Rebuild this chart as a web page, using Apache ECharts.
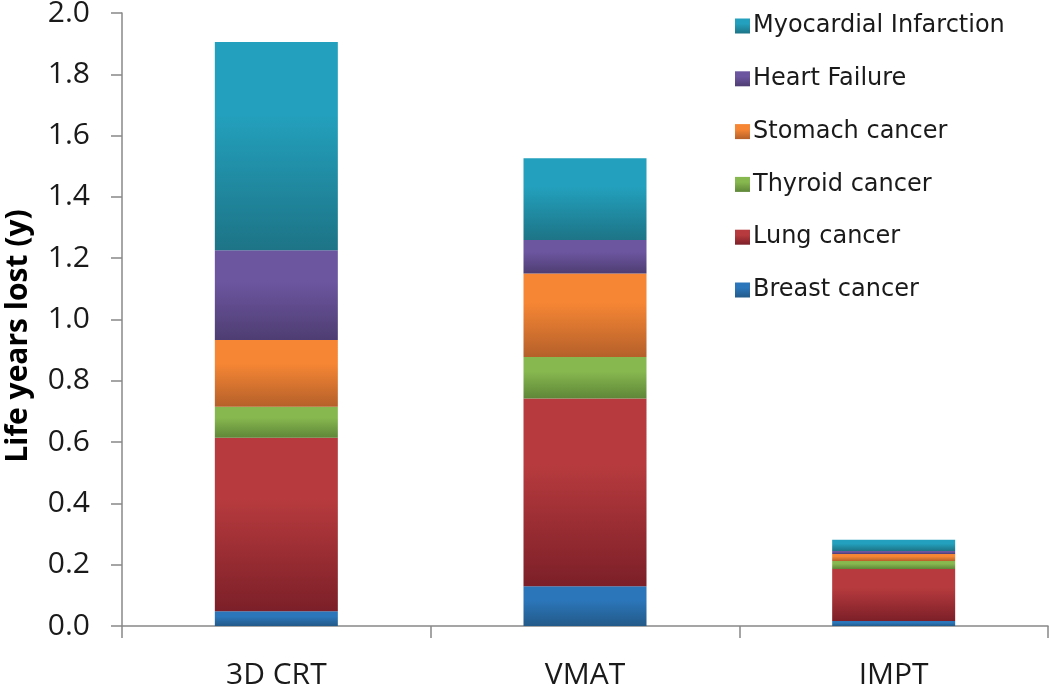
<!DOCTYPE html>
<html>
<head>
<meta charset="utf-8">
<script src="https://cdn.jsdelivr.net/npm/echarts@6/dist/echarts.min.js"></script>
<style>
html,body{margin:0;padding:0;background:#fff;}
#chart{width:1050px;height:684px;}
</style>
</head>
<body>
<div id="chart"></div>
<script>
const categories = ['3D CRT', 'VMAT', 'IMPT'];
const breastCancer = [0.048, 0.130, 0.016];
const lungCancer = [0.566, 0.612, 0.170];
const thyroidCancer = [0.101, 0.136, 0.026];
const stomachCancer = [0.218, 0.272, 0.023];
const heartFailure = [0.293, 0.109, 0.010];
const myocardialInfarction = [0.679, 0.267, 0.036];
const yTicks = [0, 0.2, 0.4, 0.6, 0.8, 1.0, 1.2, 1.4, 1.6, 1.8, 2.0];

function grad(top, bottom) {
  return new echarts.graphic.LinearGradient(0, 0, 0, 1, [
    { offset: 0, color: top },
    { offset: 0.35, color: top },
    { offset: 1, color: bottom }
  ]);
}

const seriesDefs = [
  { name: 'Breast cancer', data: breastCancer, top: '#2b76ba', bottom: '#235a89' },
  { name: 'Lung cancer', data: lungCancer, top: '#b73b3e', bottom: '#7c1f28' },
  { name: 'Thyroid cancer', data: thyroidCancer, top: '#87b84f', bottom: '#5f8638' },
  { name: 'Stomach cancer', data: stomachCancer, top: '#f68634', bottom: '#b5602a' },
  { name: 'Heart Failure', data: heartFailure, top: '#6c56a0', bottom: '#4e3d72' },
  { name: 'Myocardial Infarction', data: myocardialInfarction, top: '#23a0bd', bottom: '#1d7486' }
];

const chart = echarts.init(document.getElementById('chart'), null, { renderer: 'canvas' });
const FONT = '"Open Sans", sans-serif';

chart.setOption({
  animation: false,
  backgroundColor: '#ffffff',
  grid: { left: 122, right: 2, top: 13, bottom: 58, containLabel: false, outerBoundsMode: 'none' },
  legend: {
    orient: 'vertical',
    left: 730,
    top: 9,
    itemWidth: 15,
    itemHeight: 15,
    itemGap: 28.8,
    icon: 'rect',
    textStyle: { fontFamily: '"DejaVu Sans", sans-serif', fontSize: 24, color: '#1a1a1a', lineHeight: 24, padding: [0, 0, 0, -2] },
    data: seriesDefs.map(s => s.name).reverse()
  },
  xAxis: {
    type: 'category',
    data: categories,
    axisLine: { lineStyle: { color: '#888888', width: 1.5 } },
    axisTick: { show: true, length: 12, lineStyle: { color: '#888888', width: 1.5 } },
    axisLabel: { fontFamily: FONT, fontSize: 30, color: '#1a1a1a', margin: 34 }
  },
  yAxis: {
    type: 'value',
    min: 0,
    max: 2,
    interval: 0.2,
    splitLine: { show: false },
    axisLine: { show: true, lineStyle: { color: '#888888', width: 1.5 } },
    axisTick: { show: true, length: 11, lineStyle: { color: '#888888', width: 1.5 } },
    axisLabel: {
      fontFamily: FONT, fontSize: 30, color: '#1a1a1a', margin: 32,
      formatter: v => yTicks.includes(Math.round(v * 10) / 10) ? v.toFixed(1) : ''
    }
  },
  graphic: [{
    type: 'text',
    x: 18,
    y: 336,
    rotation: Math.PI / 2,
    style: {
      text: 'Life years lost (y)',
      fontFamily: FONT,
      fontSize: 30,
      fontWeight: 'bold',
      fill: '#000000',
      align: 'center',
      verticalAlign: 'middle'
    }
  }],
  series: seriesDefs.map(s => ({
    name: s.name,
    type: 'bar',
    stack: 'total',
    barWidth: 123,
    data: s.data,
    itemStyle: { color: grad(s.top, s.bottom) }
  }))
});
</script>
</body>
</html>
